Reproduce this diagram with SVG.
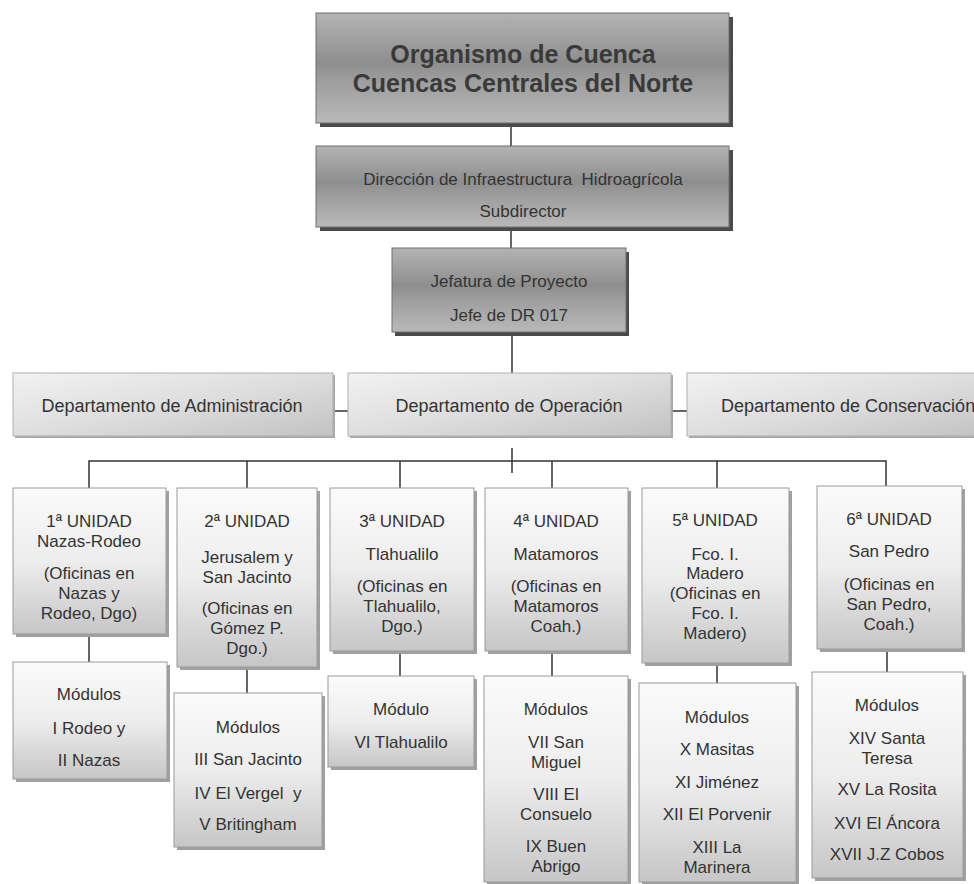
<svg xmlns="http://www.w3.org/2000/svg" width="974" height="884" viewBox="0 0 974 884">
<defs>
<linearGradient id="gTop" x1="0" y1="0" x2="0" y2="1">
<stop offset="0" stop-color="#b3b3b3"/>
<stop offset="0.45" stop-color="#8e8e8e"/>
<stop offset="0.6" stop-color="#9c9c9c"/>
<stop offset="1" stop-color="#b9b9b9"/>
</linearGradient>
<linearGradient id="gDept" x1="0" y1="0" x2="1" y2="1">
<stop offset="0" stop-color="#f2f2f2"/>
<stop offset="0.5" stop-color="#dedede"/>
<stop offset="1" stop-color="#c2c2c2"/>
</linearGradient>
<linearGradient id="gUnit" x1="0" y1="0" x2="0" y2="1">
<stop offset="0" stop-color="#fbfbfb"/>
<stop offset="0.5" stop-color="#ededed"/>
<stop offset="1" stop-color="#c6c6c6"/>
</linearGradient>
</defs>
<style>
text{font-family:"Liberation Sans",Arial,sans-serif;fill:#333;text-anchor:middle}
.t{font-size:25px;font-weight:bold;fill:#3a3a3a}
.m{font-size:17px}
.d{font-size:18px}
.s{font-size:17px}
.pre{white-space:pre}
.bx1{fill:url(#gTop);stroke:#6e6e6e;stroke-width:1}
.sh1{fill:#4a4a4a}
.bx2{fill:url(#gDept);stroke:#b0b0b0;stroke-width:1}
.sh2{fill:#a8a8a8}
.bx3{fill:url(#gUnit);stroke:#9a9a9a;stroke-width:1}
.sh3{fill:#a0a0a0}
.c{stroke:#333;stroke-width:1.5;fill:none}
</style>
<g id="connectors">
<line class="c" x1="511" y1="123" x2="511" y2="146"/>
<line class="c" x1="511" y1="227" x2="511" y2="248"/>
<line class="c" x1="512" y1="332" x2="512" y2="373"/>
<line class="c" x1="333" y1="411" x2="348" y2="411"/>
<line class="c" x1="671" y1="411" x2="687" y2="411"/>
<line class="c" x1="512" y1="448" x2="512" y2="473"/>
<polyline class="c" points="89,488 89,461 886,461 886,486"/>
<line class="c" x1="247" y1="461" x2="247" y2="488"/>
<line class="c" x1="400" y1="461" x2="400" y2="488"/>
<line class="c" x1="552" y1="461" x2="552" y2="488"/>
<line class="c" x1="717" y1="461" x2="717" y2="488"/>
<line class="c" x1="89" y1="634" x2="89" y2="662"/>
<line class="c" x1="247" y1="667" x2="247" y2="693"/>
<line class="c" x1="400" y1="651" x2="400" y2="676"/>
<line class="c" x1="552" y1="651" x2="552" y2="676"/>
<line class="c" x1="717" y1="663" x2="717" y2="683"/>
<line class="c" x1="887" y1="649" x2="887" y2="672"/>
</g>
<g id="organismo">
<rect class="sh1" x="320" y="17" width="413" height="110"/>
<rect class="bx1" x="316" y="13" width="413" height="110"/>
<text class="t" x="523" y="63">Organismo de Cuenca</text>
<text class="t" x="523" y="92">Cuencas Centrales del Norte</text>
</g>
<g id="direccion">
<rect class="sh1" x="320" y="150" width="413" height="81"/>
<rect class="bx1" x="316" y="146" width="413" height="81"/>
<text class="m pre" x="523" y="185" xml:space="preserve">Dirección de Infraestructura  Hidroagrícola</text>
<text class="m" x="523" y="217">Subdirector</text>
</g>
<g id="jefatura">
<rect class="sh1" x="395" y="252" width="234" height="84"/>
<rect class="bx1" x="392" y="248" width="234" height="84"/>
<text class="m" x="509" y="287">Jefatura de Proyecto</text>
<text class="m" x="509" y="321">Jefe de DR 017</text>
</g>
<g id="dep-admin">
<rect class="sh2" x="15" y="375" width="320" height="63"/>
<rect class="bx2" x="13" y="373" width="320" height="63"/>
<text class="d" x="172" y="412">Departamento de Administración</text>
</g>
<g id="dep-operacion">
<rect class="sh2" x="350" y="375" width="323" height="63"/>
<rect class="bx2" x="348" y="373" width="323" height="63"/>
<text class="d" x="509" y="412">Departamento de Operación</text>
</g>
<g id="dep-conservacion">
<rect class="sh2" x="689" y="375" width="300" height="63"/>
<rect class="bx2" x="687" y="373" width="300" height="63"/>
<text class="d" x="721" y="412" style="text-anchor:start">Departamento de Conservación</text>
</g>
<g id="unidad1">
<rect class="sh3" x="16" y="491" width="153" height="146"/>
<rect class="bx3" x="13" y="488" width="153" height="146"/>
<text class="s" x="89" y="527">1ª UNIDAD</text>
<text class="s" x="89" y="547">Nazas-Rodeo</text>
<text class="s" x="89" y="579">(Oficinas en</text>
<text class="s" x="89" y="599">Nazas y</text>
<text class="s" x="89" y="619">Rodeo, Dgo)</text>
</g>
<g id="unidad2">
<rect class="sh3" x="180" y="491" width="140" height="179"/>
<rect class="bx3" x="177" y="488" width="140" height="179"/>
<text class="s" x="247" y="527">2ª UNIDAD</text>
<text class="s" x="247" y="563">Jerusalem y</text>
<text class="s" x="247" y="583">San Jacinto</text>
<text class="s" x="247" y="614">(Oficinas en</text>
<text class="s" x="247" y="634">Gómez P.</text>
<text class="s" x="247" y="654">Dgo.)</text>
</g>
<g id="unidad3">
<rect class="sh3" x="333" y="491" width="144" height="163"/>
<rect class="bx3" x="330" y="488" width="144" height="163"/>
<text class="s" x="402" y="527">3ª UNIDAD</text>
<text class="s" x="402" y="560">Tlahualilo</text>
<text class="s" x="402" y="592">(Oficinas en</text>
<text class="s" x="402" y="612">Tlahualilo,</text>
<text class="s" x="402" y="632">Dgo.)</text>
</g>
<g id="unidad4">
<rect class="sh3" x="488" y="491" width="143" height="163"/>
<rect class="bx3" x="485" y="488" width="143" height="163"/>
<text class="s" x="556" y="527">4ª UNIDAD</text>
<text class="s" x="556" y="560">Matamoros</text>
<text class="s" x="556" y="592">(Oficinas en</text>
<text class="s" x="556" y="612">Matamoros</text>
<text class="s" x="556" y="632">Coah.)</text>
</g>
<g id="unidad5">
<rect class="sh3" x="645" y="491" width="147" height="175"/>
<rect class="bx3" x="642" y="488" width="147" height="175"/>
<text class="s" x="715" y="526">5ª UNIDAD</text>
<text class="s" x="715" y="560">Fco. I.</text>
<text class="s" x="715" y="579">Madero</text>
<text class="s" x="715" y="599">(Oficinas en</text>
<text class="s" x="715" y="619">Fco. I.</text>
<text class="s" x="715" y="639">Madero)</text>
</g>
<g id="unidad6">
<rect class="sh3" x="820" y="489" width="145" height="163"/>
<rect class="bx3" x="817" y="486" width="145" height="163"/>
<text class="s" x="889" y="525">6ª UNIDAD</text>
<text class="s" x="889" y="557">San Pedro</text>
<text class="s" x="889" y="590">(Oficinas en</text>
<text class="s" x="889" y="610">San Pedro,</text>
<text class="s" x="889" y="630">Coah.)</text>
</g>
<g id="modulos1">
<rect class="sh3" x="16" y="665" width="154" height="117"/>
<rect class="bx3" x="13" y="662" width="154" height="117"/>
<text class="s" x="89" y="700">Módulos</text>
<text class="s" x="89" y="734">I Rodeo y</text>
<text class="s" x="89" y="766">II Nazas</text>
</g>
<g id="modulos2">
<rect class="sh3" x="177" y="696" width="148" height="154"/>
<rect class="bx3" x="174" y="693" width="148" height="154"/>
<text class="s" x="248" y="733">Módulos</text>
<text class="s" x="248" y="765">III San Jacinto</text>
<text class="s pre" x="248" y="799" xml:space="preserve">IV El Vergel  y</text>
<text class="s" x="248" y="830">V Britingham</text>
</g>
<g id="modulos3">
<rect class="sh3" x="331" y="679" width="146" height="91"/>
<rect class="bx3" x="328" y="676" width="146" height="91"/>
<text class="s" x="401" y="715">Módulo</text>
<text class="s" x="401" y="748">VI Tlahualilo</text>
</g>
<g id="modulos4">
<rect class="sh3" x="487" y="679" width="144" height="206"/>
<rect class="bx3" x="484" y="676" width="144" height="206"/>
<text class="s" x="556" y="715">Módulos</text>
<text class="s" x="556" y="748">VII San</text>
<text class="s" x="556" y="768">Miguel</text>
<text class="s" x="556" y="800">VIII El</text>
<text class="s" x="556" y="820">Consuelo</text>
<text class="s" x="556" y="852">IX Buen</text>
<text class="s" x="556" y="872">Abrigo</text>
</g>
<g id="modulos5">
<rect class="sh3" x="642" y="686" width="157" height="199"/>
<rect class="bx3" x="639" y="683" width="157" height="199"/>
<text class="s" x="717" y="723">Módulos</text>
<text class="s" x="717" y="755">X Masitas</text>
<text class="s" x="717" y="788">XI Jiménez</text>
<text class="s" x="717" y="820">XII El Porvenir</text>
<text class="s" x="717" y="853">XIII La</text>
<text class="s" x="717" y="873">Marinera</text>
</g>
<g id="modulos6">
<rect class="sh3" x="815" y="675" width="151" height="206"/>
<rect class="bx3" x="812" y="672" width="151" height="206"/>
<text class="s" x="887" y="711">Módulos</text>
<text class="s" x="887" y="744">XIV Santa</text>
<text class="s" x="887" y="764">Teresa</text>
<text class="s" x="887" y="795">XV La Rosita</text>
<text class="s" x="887" y="829">XVI El Áncora</text>
<text class="s" x="887" y="860">XVII J.Z Cobos</text>
</g>
</svg>
